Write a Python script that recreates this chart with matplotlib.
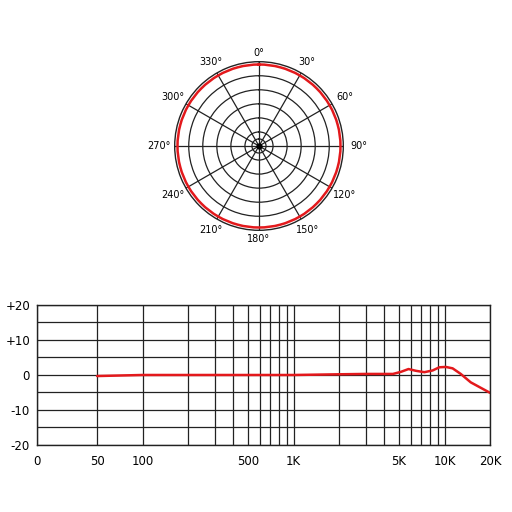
import numpy as np
import matplotlib
matplotlib.use("Agg")
import matplotlib.pyplot as plt

# polar pattern (omni) - level, ring units
pattern_deg = [0, 30, 60, 90, 120, 150, 180, 210, 240, 270, 300, 330, 360]
pattern_r = [5.8, 5.8, 5.8, 5.8, 5.8, 5.8, 5.8, 5.8, 5.8, 5.8, 5.8, 5.8, 5.8]
angle_labels = ["0°", "30°", "60°", "90°", "120°", "150°", "180°",
                "210°", "240°", "270°", "300°", "330°"]

# frequency response
freq = [50, 100, 200, 500, 1000, 2000, 3000, 3700, 4550, 5140, 5770, 6450,
        7350, 8340, 9230, 10200, 11300, 12800, 14900, 20000]
level = [-0.3, 0.0, 0.0, 0.0, 0.0, 0.2, 0.3, 0.3, 0.3, 0.9, 1.7, 1.2,
         0.8, 1.3, 2.2, 2.3, 1.9, 0.3, -2.1, -5.1]
xtick_pos = [20, 50, 100, 500, 1000, 5000, 10000, 20000]
xtick_lab = ["0", "50", "100", "500", "1K", "5K", "10K", "20K"]
xminor = [200, 300, 400, 600, 700, 800, 900, 2000, 3000, 4000,
          6000, 7000, 8000, 9000]
ytick_pos = [-20, -10, 0, 10, 20]
ytick_lab = ["-20", "-10", "0", "+10", "+20"]

grid_c = "#222222"
red = "#e3191c"

fig = plt.figure(figsize=(5.12, 5.12), dpi=100)

# --- polar plot
pax = fig.add_axes([0.3412, 0.5502, 0.3293, 0.3293], projection="polar")
pax.set_theta_zero_location("N")
pax.set_theta_direction(-1)
pax.set_ylim(0, 6)
pax.set_rgrids([0.5, 1, 2, 3, 4, 5], labels=[""] * 6)
pax.set_thetagrids(pattern_deg[:-1], labels=[""] * 12)
pax.grid(True, color=grid_c, lw=0.9)
pax.spines["polar"].set_color(grid_c)
pax.spines["polar"].set_linewidth(1.0)
line, = pax.plot(np.radians(pattern_deg), pattern_r, color=red, lw=1.8)
line.get_path()._interpolation_steps = 60  # draw arcs, not chords
pax.plot([0], [0], "o", color="black", ms=3.5)
for deg, lab in zip(pattern_deg[:-1], angle_labels):
    th = np.radians(deg)
    # wider labels sit a bit further out at the sides
    pax.text(th, 6.65 + 0.45 * abs(np.sin(th)), lab, ha="center",
             va="center", fontsize=7, clip_on=False)

# --- frequency response
ax = fig.add_axes([0.0723, 0.1309, 0.8848, 0.2734])
ax.set_xscale("log")
ax.set_xlim(20, 20000)
ax.set_ylim(-20, 20)
ax.set_xticks(xtick_pos)
ax.set_xticklabels(xtick_lab)
ax.set_xticks(xminor, minor=True)
ax.set_xticklabels([], minor=True)
ax.set_yticks(ytick_pos)
ax.set_yticklabels(ytick_lab)
ax.set_yticks([-15, -5, 5, 15], minor=True)
ax.tick_params(which="both", length=0, labelsize=8.5)
ax.tick_params(axis="x", pad=7)
ax.tick_params(axis="y", pad=5)
ax.grid(True, which="both", color=grid_c, lw=0.9)
for s in ax.spines.values():
    s.set_color(grid_c)
    s.set_linewidth(1.0)
ax.plot(freq, level, color=red, lw=1.8, solid_capstyle="round")

fig.savefig("out.png", dpi=100)
